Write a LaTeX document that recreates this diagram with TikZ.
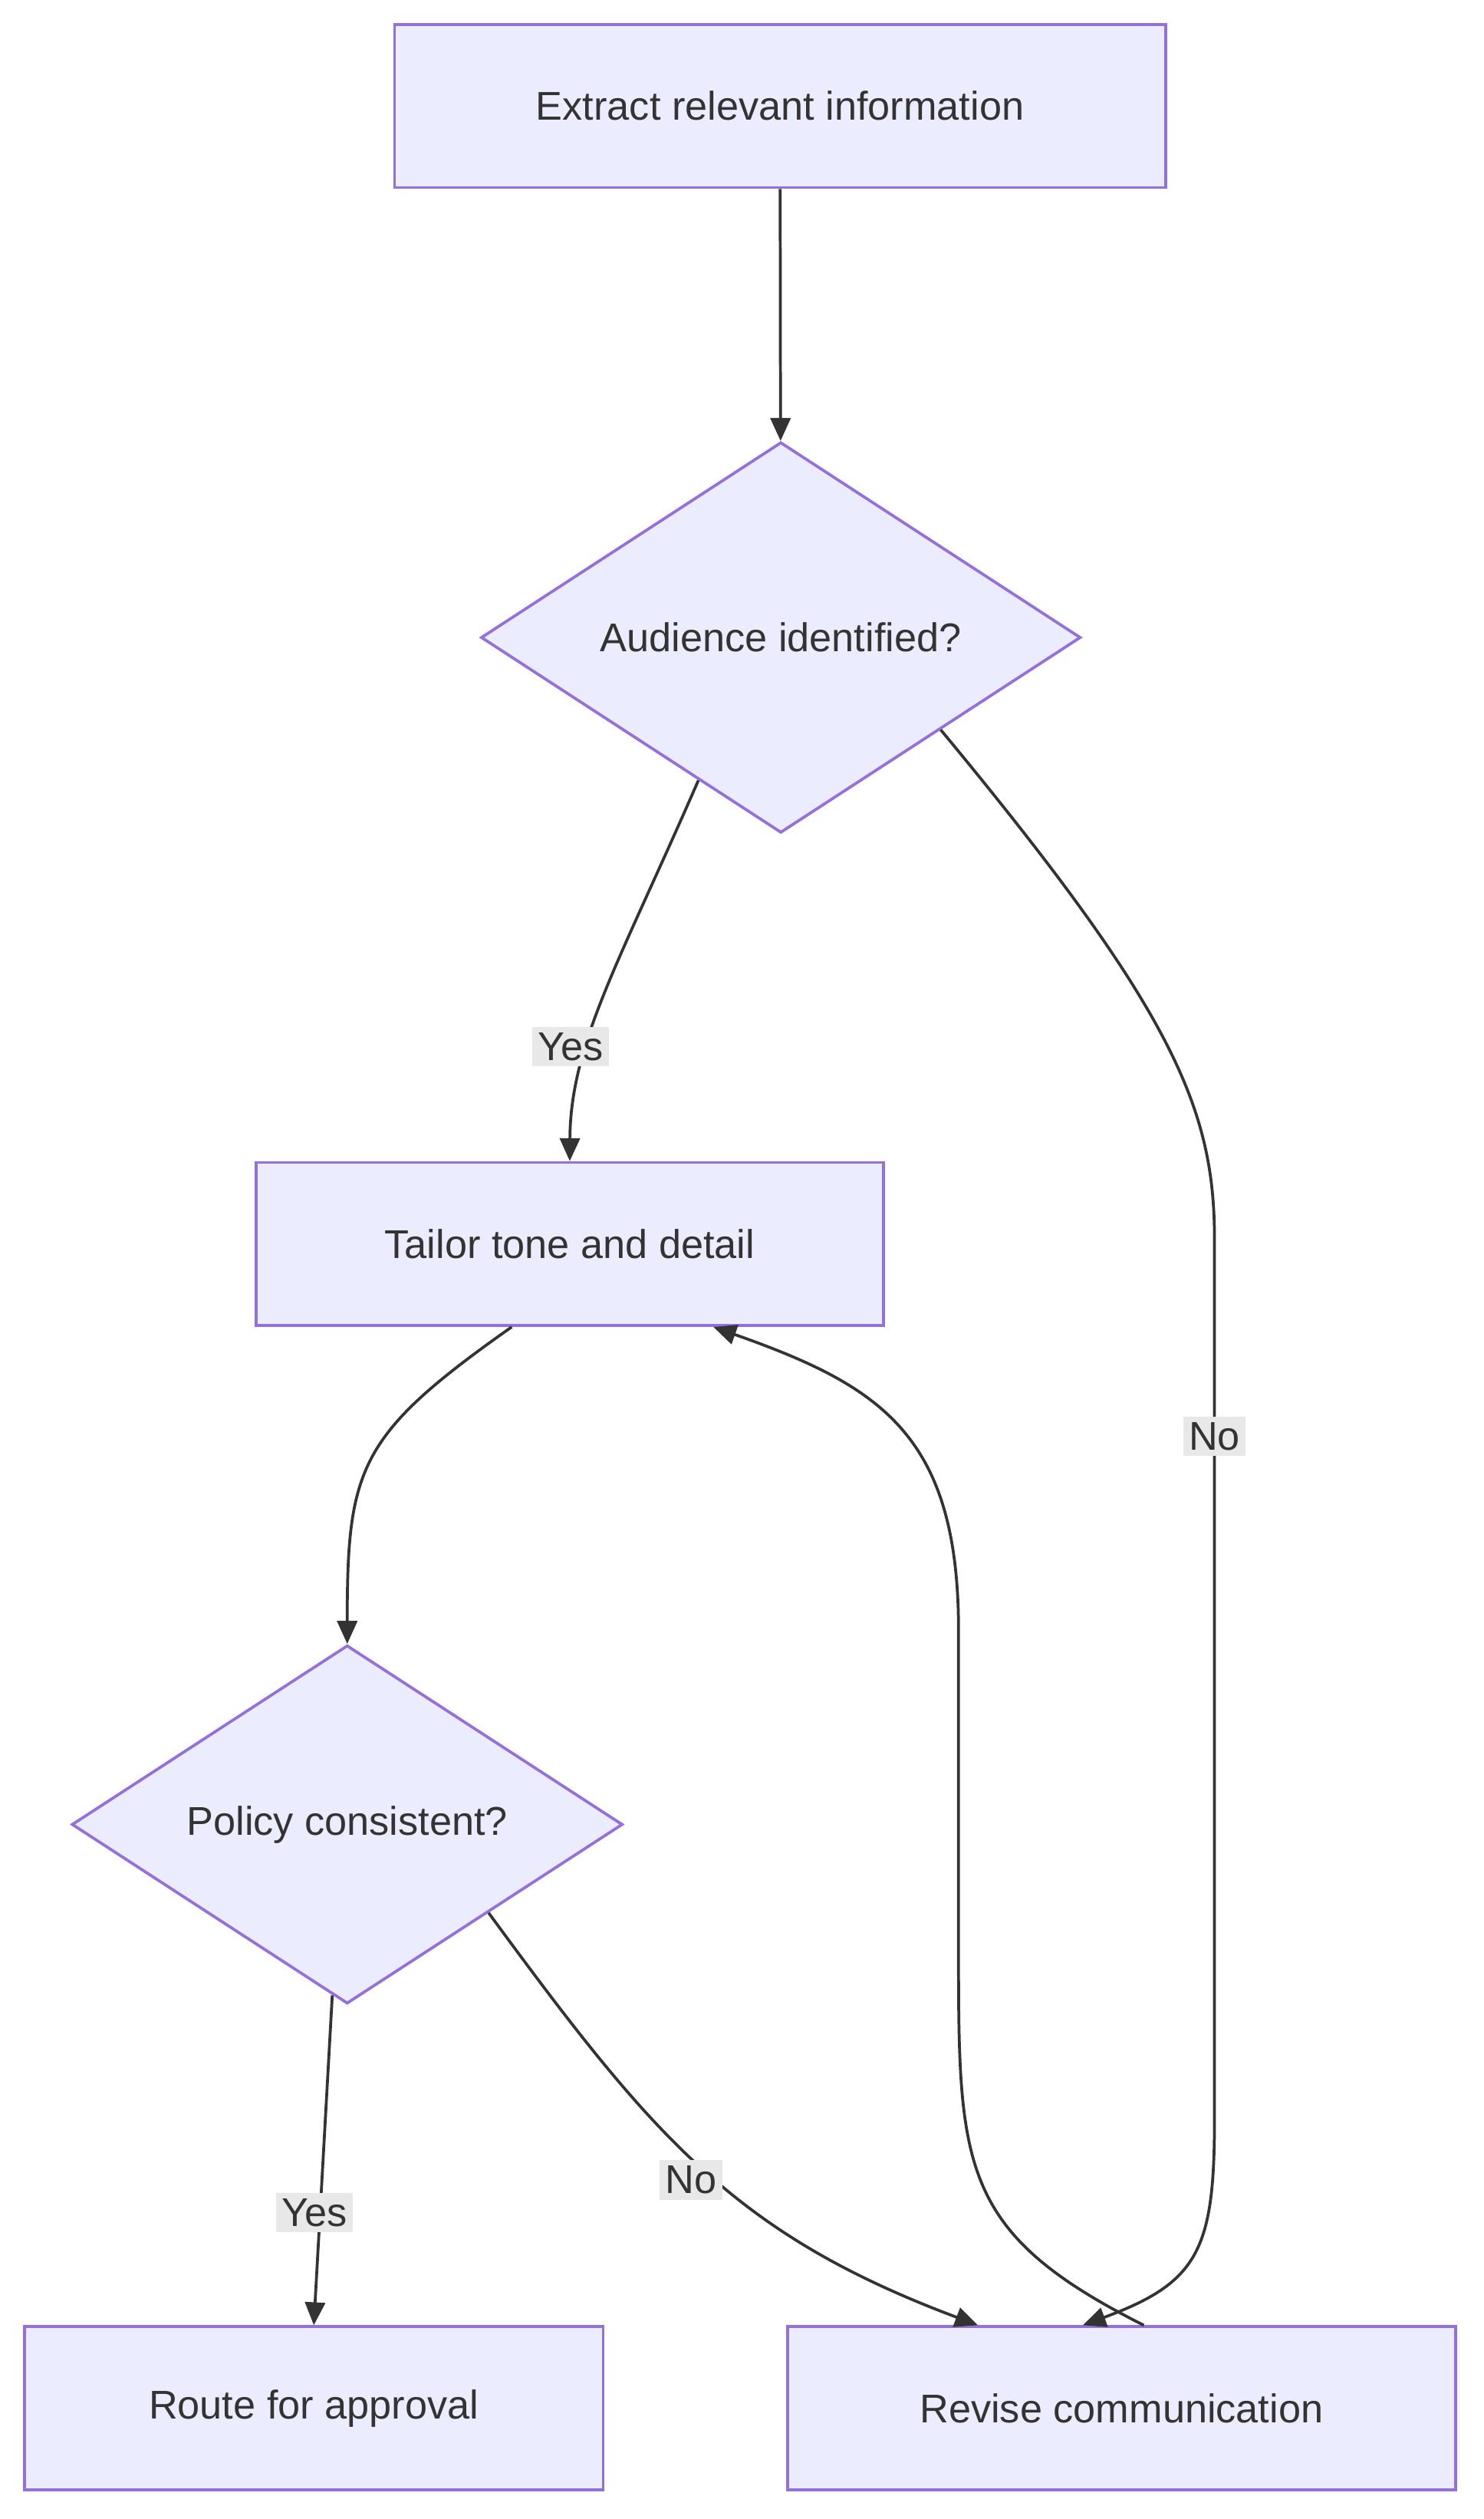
\documentclass[tikz,border=0pt]{standalone}
\usepackage{fontspec}
\setmainfont{Liberation Sans}
\usetikzlibrary{shapes.geometric,arrows.meta}
\definecolor{boxfill}{HTML}{ECECFF}
\definecolor{boxline}{HTML}{9370DB}
\definecolor{labelbg}{HTML}{E8E8E8}
\definecolor{ink}{HTML}{333333}
\tikzset{
  task/.style={draw=boxline, fill=boxfill, line width=1pt, minimum height=2cm, inner sep=0pt, text=ink, font=\fontsize{14}{16}\selectfont},
  check/.style={diamond, draw=boxline, fill=boxfill, line width=1pt, inner sep=0pt, aspect=1, text=ink, font=\fontsize{14}{16}\selectfont},
  link/.style={draw=ink, line width=1pt, -{Triangle[length=8pt,width=7pt]}},
  tag/.style={fill=labelbg, text=ink, inner sep=2pt, font=\fontsize{14}{16}\selectfont}
}
\begin{document}
\begin{tikzpicture}[x=0.02cm, y=-0.02cm]

    % Canvas
    \useasboundingbox (0,0) rectangle (910,1545);

    % Process steps
    \node[task, minimum width=9.46cm] (extract) at (478.5,65) {Extract relevant information};
    \node[task, minimum width=7.7cm] (tailor) at (349.5,763) {Tailor tone and detail};
    \node[task, minimum width=7.1cm] (route) at (192.5,1477) {Route for approval};
    \node[task, minimum width=8.2cm] (revise) at (688,1477) {Revise communication};

    % Decisions
    \node[check, minimum width=7.36cm] (audience) at (479,391) {Audience identified?};
    \node[check, minimum width=6.76cm] (policy) at (213,1119) {Policy consistent?};

    % Connectors
    \draw[link] (extract) -- (audience);
    \draw[link] (audience.-120) .. controls (380,590) and (350,640) .. (tailor.north);
    \draw[link] (audience.-30) .. controls (720,620) and (745,680) .. (745,760)
        -- (745,1300) .. controls (745,1380) and (735,1400) .. (revise.115);
    \draw[link] (tailor.-125) .. controls (220,880) and (213,900) .. (policy.north);
    \draw[link] (policy.-95) -- (route.north);
    \draw[link] (policy.-32) .. controls (400,1310) and (450,1370) .. (revise.150);
    \draw[link] (revise.75) .. controls (590,1370) and (588,1330) .. (588,1200)
        -- (588,1000) .. controls (588,880) and (540,850) .. (tailor.-30);

    % Edge labels
    \node[tag] (yes1) at (350,642) {Yes};
    \node[tag] (no1) at (745,881) {No};
    \node[tag] (yes2) at (193,1357) {Yes};
    \node[tag] (no2) at (424,1337) {No};

\end{tikzpicture}
\end{document}
